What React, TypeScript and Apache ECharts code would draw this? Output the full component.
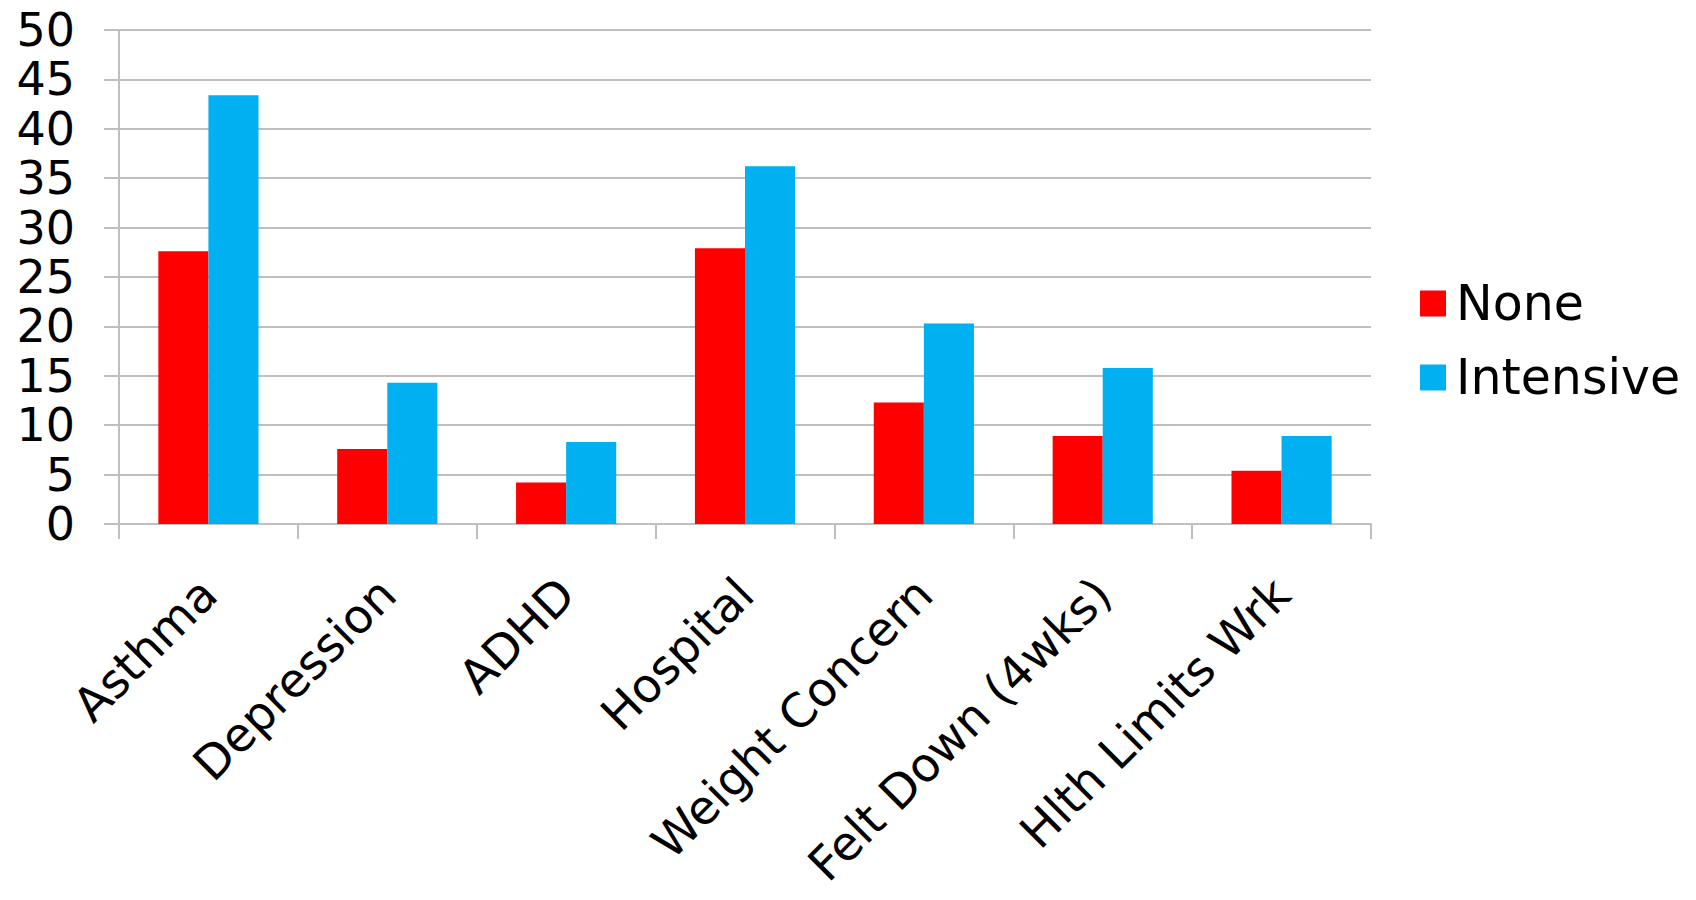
import React, { useEffect, useRef } from "react";
import * as echarts from "echarts";

const categories = [
  "Asthma",
  "Depression",
  "ADHD",
  "Hospital",
  "Weight Concern",
  "Felt Down (4wks)",
  "Hlth Limits Wrk",
];
const noneValues = [27.6, 7.6, 4.2, 27.9, 12.3, 8.9, 5.4];
const intensiveValues = [43.4, 14.3, 8.3, 36.2, 20.3, 15.8, 8.9];
const seriesNames = ["None", "Intensive"];
const yTicks = { min: 0, max: 50, interval: 5 };

export default function App() {
  const ref = useRef<HTMLDivElement>(null);
  useEffect(() => {
    document.body.style.margin = "0";
    const chart = echarts.init(ref.current!, null, { renderer: "svg" });
    const font = "DejaVu Sans";
    const gridColor = "#bfbfbf";
    chart.setOption({
      animation: false,
      backgroundColor: "#ffffff",
      textStyle: { fontFamily: font },
      grid: { left: 119, right: 325, top: 30, bottom: 376 },
      legend: {
        orient: "vertical",
        left: 1415,
        top: 274,
        itemWidth: 26,
        itemHeight: 26,
        itemGap: 25,
        icon: "rect",
        textStyle: { fontSize: 49, color: "#000", fontFamily: font, padding: [0, 0, 0, 5] },
        data: seriesNames,
      },
      xAxis: {
        type: "category",
        data: categories,
        boundaryGap: true,
        axisLine: { show: true, lineStyle: { color: gridColor, width: 2 } },
        axisTick: { show: true, length: 15, lineStyle: { color: gridColor, width: 2 } },
        axisLabel: {
          rotate: 45,
          interval: 0,
          margin: 62,
          fontSize: 47,
          color: "#000",
          fontFamily: font,
        },
      },
      yAxis: {
        type: "value",
        min: yTicks.min,
        max: yTicks.max,
        interval: yTicks.interval,
        axisLine: { show: true, lineStyle: { color: gridColor, width: 2 } },
        axisTick: { show: true, length: 15, lineStyle: { color: gridColor, width: 2 } },
        splitLine: { show: true, lineStyle: { color: gridColor, width: 2 } },
        axisLabel: { margin: 44, fontSize: 46, lineHeight: 40, color: "#000", fontFamily: font },
      },
      series: [
        {
          name: seriesNames[0],
          type: "bar",
          data: noneValues,
          itemStyle: { color: "#ff0000" },
          barGap: "0%",
          barCategoryGap: "44%",
        },
        {
          name: seriesNames[1],
          type: "bar",
          data: intensiveValues,
          itemStyle: { color: "#00b0f0" },
          barGap: "0%",
          barCategoryGap: "44%",
        },
      ],
    });
    return () => chart.dispose();
  }, []);
  return <div ref={ref} style={{ width: 1696, height: 900 }} />;
}
